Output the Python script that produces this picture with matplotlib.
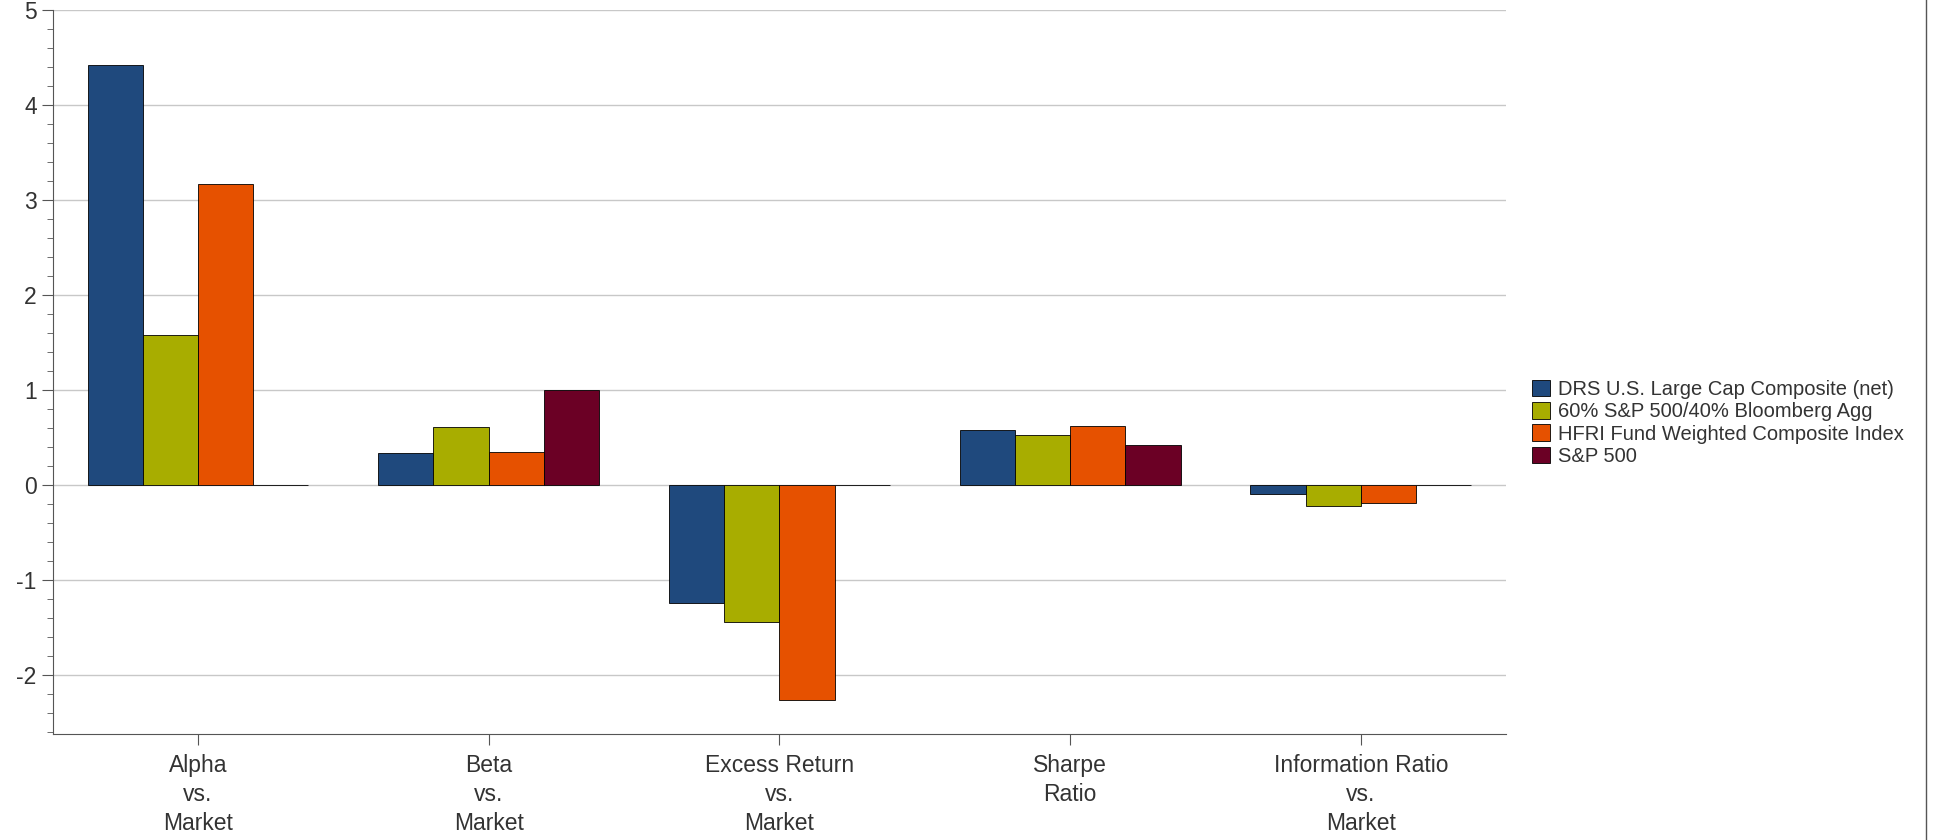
import numpy as np
import matplotlib.pyplot as plt
from matplotlib.ticker import MultipleLocator

plt.rcParams['font.family'] = ['Liberation Sans', 'DejaVu Sans']
plt.rcParams['axes.unicode_minus'] = False

# Data
categories = ['Alpha\nvs.\nMarket', 'Beta\nvs.\nMarket', 'Excess Return\nvs.\nMarket',
              'Sharpe\nRatio', 'Information Ratio\nvs.\nMarket']
series_names = ['DRS U.S. Large Cap Composite (net)', '60% S&P 500/40% Bloomberg Agg',
                'HFRI Fund Weighted Composite Index', 'S&P 500']
drs = [4.42, 0.34, -1.24, 0.58, -0.09]
sp60_40 = [1.58, 0.61, -1.44, 0.53, -0.22]
hfri = [3.17, 0.35, -2.26, 0.62, -0.19]
sp500 = [0.0, 1.0, 0.0, 0.42, 0.0]
colors = ['#1f497d', '#a8ad00', '#e65100', '#6b0025']

fig = plt.figure(figsize=(19.51, 8.40), dpi=100)
ax = fig.add_axes([0.027, 0.126, 0.745, 0.862])

x = np.arange(len(categories))
w = 0.19
for i, (vals, name, c) in enumerate(zip([drs, sp60_40, hfri, sp500], series_names, colors)):
    ax.bar(x + (i - 1.5) * w, vals, w, color=c, edgecolor='black', linewidth=0.6,
           label=name, zorder=3)

ax.set_xlim(-0.5, 4.5)
ax.set_ylim(-2.62, 5.0)
ax.yaxis.set_major_locator(MultipleLocator(1))
ax.yaxis.set_minor_locator(MultipleLocator(0.2))
ax.grid(axis='y', color='#c8c8c8', linewidth=1, zorder=0)
ax.set_xticks(x)
ax.set_xticklabels(categories, linespacing=1.35)
for s in ['top', 'right']:
    ax.spines[s].set_visible(False)
for s in ['left', 'bottom']:
    ax.spines[s].set_color('#555555')
ax.tick_params(axis='both', colors='#555555', labelcolor='#333333', labelsize=16.5)
ax.tick_params(axis='y', which='major', length=8, direction='out')
ax.tick_params(axis='y', which='minor', length=4, direction='out', color='#555555')
ax.tick_params(axis='x', length=8, pad=6)

ax.legend(loc='center left', bbox_to_anchor=(1.005, 0.43), frameon=False, fontsize=14.5,
          handlelength=0.9, handleheight=0.9, handletextpad=0.4, labelspacing=0.15,
          labelcolor='#333333')

fig.add_artist(plt.Line2D([0.987, 0.987], [0, 1], color='#555555', linewidth=1))

fig.savefig('out.png', dpi=100)
